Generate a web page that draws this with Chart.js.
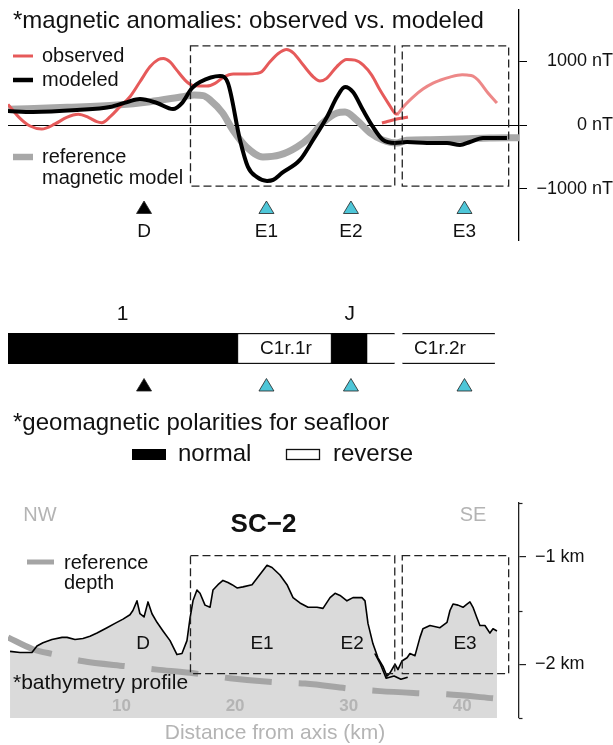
<!DOCTYPE html>
<html>
<head>
<meta charset="utf-8">
<title>SC-2 magnetic anomalies, polarities and bathymetry</title>
<script src="https://cdn.jsdelivr.net/npm/chart.js@4.4.1/dist/chart.umd.min.js"></script>
<style>
  html, body { margin: 0; padding: 0; background: #fff; }
  #wrap { position: relative; width: 613px; height: 745px; overflow: hidden; }
  canvas { position: absolute; left: 0; top: 0; }
</style>
</head>
<body>
<div id="wrap">
  <canvas id="mag" width="613" height="745"></canvas>
  <canvas id="pol" width="613" height="745"></canvas>
  <canvas id="bathy" width="613" height="745"></canvas>
</div>
<script>
// ---- distance along profile (km from axis) ----
const distanceRange = [0, 45];
const distTicks = [10, 20, 30, 40];

// ---- magnetic anomaly (nT) ----
const magTicks = [-1000, 0, 1000];
const magTickLabels = ['\u22121000 nT', '0 nT', '1000 nT'];

const observedKm = [0.0, 1.06, 1.94, 2.97, 4.14, 5.17, 6.19, 7.07, 7.81, 8.25, 9.0, 9.86, 10.74, 11.62, 12.5, 13.24, 13.68, 14.27, 14.86, 15.59, 16.18, 16.91, 17.5, 18.23, 18.96, 19.84, 21.02, 21.9, 22.34, 23.07, 23.8, 24.54, 25.12, 26.0, 26.88, 27.47, 28.06, 28.94, 29.83, 30.56, 31.29, 32.03, 32.76, 33.49, 34.08, 34.3];
const observedNT = [323, 104, -16, -63, 16, 120, 167, 120, 52, 36, 130, 286, 442, 677, 911, 1026, 1042, 989, 859, 703, 625, 609, 609, 651, 745, 797, 797, 808, 833, 989, 1120, 1183, 1130, 938, 755, 688, 729, 911, 1026, 1016, 938, 781, 547, 339, 183, 170];

const observedJoinKm = [32.93, 33.4, 33.9, 34.6, 35.22];
const observedJoinNT = [31, 55, 78, 105, 125];

const observedSEKm = [34.25, 34.96, 35.67, 36.54, 37.43, 38.04, 38.92, 40.0, 40.42, 40.95, 41.39, 42.27, 43.06];
const observedSENT = [156, 313, 438, 563, 656, 700, 750, 785, 781, 766, 703, 500, 344];

const modeledKm = [0, 2.2, 6.08, 8.98, 10.5, 11.62, 13.12, 14.53, 15.32, 16.2, 16.91, 18.67, 19.37, 20.43, 21.13, 21.9, 22.81, 23.35, 24.13, 25.71, 26.86, 28.09, 28.97, 29.68, 30.38, 31.26, 32.14, 33.02, 34.08, 35.14, 36.9, 38.66, 39.8, 40.68, 41.83, 43.94];
const modeledNT = [219, 203, 234, 281, 359, 406, 344, 250, 344, 578, 672, 766, 656, -234, -656, -813, -875, -859, -750, -547, -234, 125, 438, 594, 516, 234, -31, -234, -281, -266, -281, -281, -313, -266, -203, -203];

const refModelKm = [0, 5.2, 9.6, 12.5, 15.4, 16.4, 17.2, 17.8, 18.9, 19.8, 21.0, 22.45, 23.95, 25.45, 26.6, 27.7, 28.97, 29.68, 30.7, 31.9, 33.0, 34.25, 35.1, 37.2, 39.8, 42.4, 45];
const refModelNT = [245, 276, 313, 365, 443, 469, 460, 391, 188, -78, -344, -500, -469, -344, -188, 31, 188, 203, 78, -125, -234, -281, -240, -230, -220, -205, -200];

// study windows (km) and their vertical extent in each panel
const windowKm = [[16.07, 34.06], [34.72, 44.09]];
const windowNT = [-958, 1240];
const windowDepth = [-2.088, -0.99];

// ---- features along the profile ----
const featureNames = ['D', 'E1', 'E2', 'E3'];
const featureKm = [11.98, 22.76, 30.2, 40.2];
const profileLabelKm = [11.9, 22.37, 30.3, 40.25];

// ---- geomagnetic polarity of the seafloor (km) ----
const normalChrons = [[0, 20.17], [28.53, 31.61]];
const reverseChrons = [[20.17, 28.53], [31.61, 34.06], [34.72, 42.88]];
const reverseClosed = [true, false, false];
const chronNames = ['C1r.1r', 'C1r.2r'];
const chronNameKm = [24.48, 38.04];
const anomalyNames = ['1', 'J'];
const anomalyKm = [10.1, 30.1];

// ---- bathymetry (km) ----
const depthTicks = [-2, -1];
const depthTickLabels = ['\u22122 km', '\u22121 km'];
const depthMinorTicks = [-2.5, -1.5, -0.5];

const bathyKm = [0.18, 1.06, 2.11, 2.55, 3.08, 3.87, 4.76, 5.2, 5.9, 6.6, 7.22, 7.84, 8.72, 9.42, 10.13, 10.74, 11.0, 11.36, 11.62, 11.98, 12.33, 12.68, 13.12, 13.65, 14.27, 14.88, 15.32, 15.76, 16.03, 16.29, 16.64, 16.91, 17.35, 17.79, 18.05, 18.49, 18.93, 19.37, 19.73, 20.17, 20.69, 21.49, 21.93, 22.37, 22.81, 23.25, 23.95, 24.57, 25.1, 25.71, 26.42, 27.21, 27.74, 28.36, 28.8, 29.24, 29.85, 30.38, 31.17, 31.44, 31.7, 32.14, 32.58, 33.02, 33.37, 33.64, 34.08, 34.34, 34.69, 35.14, 35.4, 35.84, 36.28, 36.54, 37.16, 38.04, 38.66, 38.92, 39.19, 39.63, 40.07, 40.42, 40.68, 40.95, 41.3, 41.56, 42.0, 42.44, 42.71, 43.06];
const bathyDepth = [-1.88, -1.89, -1.89, -1.83, -1.80, -1.77, -1.75, -1.75, -1.77, -1.76, -1.74, -1.71, -1.66, -1.62, -1.58, -1.54, -1.50, -1.41, -1.53, -1.56, -1.42, -1.53, -1.61, -1.69, -1.78, -1.91, -1.90, -1.78, -1.57, -1.41, -1.31, -1.34, -1.45, -1.47, -1.31, -1.26, -1.22, -1.24, -1.26, -1.29, -1.28, -1.26, -1.20, -1.14, -1.08, -1.10, -1.17, -1.26, -1.38, -1.43, -1.47, -1.47, -1.48, -1.38, -1.34, -1.36, -1.41, -1.38, -1.38, -1.41, -1.62, -1.81, -1.94, -2.02, -2.11, -2.08, -2.00, -2.05, -1.97, -1.94, -1.90, -1.92, -1.75, -1.67, -1.64, -1.66, -1.61, -1.50, -1.44, -1.45, -1.47, -1.44, -1.42, -1.47, -1.57, -1.64, -1.64, -1.71, -1.67, -1.69];

const bathyJoinKm = [32.3, 32.8, 33.3, 34.0, 34.6, 35.2];
const bathyJoinDepth = [-1.90, -2.00, -2.13, -2.11, -2.14, -2.12];

const refDepthKm = [0, 2.2, 4.14, 6.52, 10.57, 13.12, 16.03, 19.55, 23.78, 26.15, 30.38, 32.76, 36.46, 38.66, 43.06];
const refDepth = [-1.75, -1.86, -1.91, -1.97, -2.02, -2.05, -2.08, -2.13, -2.17, -2.18, -2.23, -2.25, -2.27, -2.28, -2.32];

// ---- shared styling ----
const FONT = '"Liberation Sans", Arial, Helvetica, sans-serif';
const RED = '#e65a5a';
const RED_SE = 'rgba(230, 90, 90, 0.72)';
const CYAN = '#4ec6d8';
const LIGHT_GREY = '#b4b4b4';
const AXIS_W = 94;

Chart.defaults.font.family = FONT;
Chart.defaults.color = '#111';

const pts = (xs, ys) => xs.map((x, i) => ({ x, y: ys[i] }));

function text(ctx, s, x, y, size, opt = {}) {
  ctx.save();
  ctx.font = (opt.bold ? 'bold ' : '') + size + 'px ' + FONT;
  ctx.fillStyle = opt.color || '#111';
  ctx.textAlign = opt.align || 'left';
  ctx.textBaseline = 'middle';
  ctx.fillText(s, x, y);
  ctx.restore();
}

function legendLine(ctx, x1, x2, y, color, width, dash) {
  ctx.save();
  ctx.beginPath();
  ctx.moveTo(x1, y);
  ctx.lineTo(x2, y);
  ctx.strokeStyle = color;
  ctx.lineWidth = width;
  if (dash) ctx.setLineDash(dash);
  ctx.stroke();
  ctx.restore();
}

function triangle(ctx, x, top, fill) {
  const w = 15, h = 12.5;
  ctx.save();
  ctx.beginPath();
  ctx.moveTo(x, top);
  ctx.lineTo(x + w / 2, top + h);
  ctx.lineTo(x - w / 2, top + h);
  ctx.closePath();
  ctx.fillStyle = fill;
  ctx.fill();
  ctx.lineWidth = 0.8;
  ctx.strokeStyle = '#222';
  ctx.stroke();
  ctx.restore();
}

function featureTriangles(chart, top) {
  const xs = chart.scales.x;
  featureKm.forEach((km, i) => {
    triangle(chart.ctx, xs.getPixelForValue(km), top, featureNames[i] === 'D' ? '#000' : CYAN);
  });
}

function windowBoxes(chart, yRange) {
  const { ctx, scales: { x, y } } = chart;
  const yt = y.getPixelForValue(yRange[1]);
  const yb = y.getPixelForValue(yRange[0]);
  ctx.save();
  ctx.setLineDash([8, 4]);
  ctx.lineWidth = 1.3;
  ctx.strokeStyle = '#222';
  windowKm.forEach(([a, b]) => {
    const xa = x.getPixelForValue(a), xb = x.getPixelForValue(b);
    ctx.strokeRect(xa, yt, xb - xa, yb - yt);
  });
  ctx.restore();
}

const fitRightAxis = s => { s.width = AXIS_W; s.paddingTop = 0; s.paddingBottom = 0; };
const baseOptions = {
  responsive: false,
  animation: false,
  devicePixelRatio: 1,
  events: [],
};

// ---------- magnetic anomalies ----------
const magDecor = {
  id: 'magDecor',
  afterDatasetsDraw(chart) {
    const ctx = chart.ctx;
    windowBoxes(chart, windowNT);
    text(ctx, '*magnetic anomalies: observed vs. modeled', 13, 21, 24);
    legendLine(ctx, 13, 33, 56, RED, 3);
    text(ctx, 'observed', 42, 56, 20);
    legendLine(ctx, 13, 33, 80, '#000', 4.5);
    text(ctx, 'modeled', 42, 80, 20);
    legendLine(ctx, 13, 33, 157, '#a8a8a8', 6.5);
    text(ctx, 'reference', 42, 157, 20);
    text(ctx, 'magnetic model', 42, 178, 20);
    featureTriangles(chart, 201);
    const xs = chart.scales.x;
    featureKm.forEach((km, i) => text(ctx, featureNames[i], xs.getPixelForValue(km), 232, 19, { align: 'center' }));
  }
};

new Chart(document.getElementById('mag'), {
  type: 'line',
  data: {
    datasets: [
      { label: 'reference magnetic model', data: pts(refModelKm, refModelNT), borderColor: '#a8a8a8', borderWidth: 7, order: 4 },
      { label: 'observed', data: pts(observedKm, observedNT), borderColor: RED, borderWidth: 3, order: 3 },
      { label: 'observed (join)', data: pts(observedJoinKm, observedJoinNT), borderColor: RED, borderWidth: 3, order: 3 },
      { label: 'observed (SE)', data: pts(observedSEKm, observedSENT), borderColor: RED_SE, borderWidth: 3, order: 3 },
      { label: 'modeled', data: pts(modeledKm, modeledNT), borderColor: '#000', borderWidth: 4, order: 1 },
    ]
  },
  options: Object.assign({}, baseOptions, {
    layout: { padding: { left: 8, top: 10, right: 0, bottom: 505 } },
    elements: {
      point: { radius: 0 },
      line: { cubicInterpolationMode: 'monotone', borderCapStyle: 'butt', borderJoinStyle: 'round', fill: false }
    },
    plugins: { legend: { display: false }, tooltip: { enabled: false } },
    scales: {
      x: { type: 'linear', min: distanceRange[0], max: distanceRange[1], display: false },
      y: {
        type: 'linear', position: 'right', min: -1800, max: 1800,
        afterBuildTicks: s => { s.ticks = magTicks.map(v => ({ value: v })); },
        afterFit: fitRightAxis,
        grid: {
          drawOnChartArea: true,
          color: c => (c.tick && c.tick.value === 0 ? '#000' : 'rgba(0,0,0,0)'),
          tickColor: '#000', tickLength: 8, lineWidth: 1
        },
        border: { display: true, color: '#000', width: 1.3 },
        ticks: { padding: 8, crossAlign: 'far', font: { size: 18 }, color: '#111', callback: (v, i) => magTickLabels[i] }
      }
    }
  }),
  plugins: [magDecor]
});

// ---------- geomagnetic polarities ----------
const polDecor = {
  id: 'polDecor',
  afterDraw(chart) {
    const ctx = chart.ctx;
    const xs = chart.scales.x;
    const mid = (chart.chartArea.top + chart.chartArea.bottom) / 2;
    anomalyNames.forEach((s, i) => text(ctx, s, xs.getPixelForValue(anomalyKm[i]), 314, 21, { align: 'center' }));
    chronNames.forEach((s, i) => text(ctx, s, xs.getPixelForValue(chronNameKm[i]), mid, 19, { align: 'center' }));
    featureTriangles(chart, 378.5);
    text(ctx, '*geomagnetic polarities for seafloor', 13, 423, 24);
    ctx.save();
    ctx.fillStyle = '#000';
    ctx.fillRect(132, 449, 34, 11);
    ctx.fillStyle = '#fff';
    ctx.strokeStyle = '#111';
    ctx.lineWidth = 1.3;
    ctx.fillRect(286, 449, 34, 11);
    ctx.strokeRect(286.5, 449.5, 33, 10);
    ctx.restore();
    text(ctx, 'normal', 178, 454, 24);
    text(ctx, 'reverse', 333, 454, 24);
  }
};

new Chart(document.getElementById('pol'), {
  type: 'bar',
  data: {
    labels: ['polarity'],
    datasets: [
      { label: 'normal', data: normalChrons.map(r => ({ x: r, y: 'polarity' })), backgroundColor: '#000', borderWidth: 0 },
      {
        label: 'reverse', data: reverseChrons.map(r => ({ x: r, y: 'polarity' })),
        backgroundColor: '#fff', borderColor: '#111', borderSkipped: false,
        borderWidth: c => (reverseClosed[c.dataIndex] ? 1.5 : { top: 1.5, bottom: 1.5, left: 0, right: 0 })
      }
    ]
  },
  options: Object.assign({}, baseOptions, {
    indexAxis: 'y',
    datasets: { bar: { grouped: false, barPercentage: 1, categoryPercentage: 1 } },
    layout: { padding: { left: 8, right: AXIS_W, top: 333, bottom: 381 } },
    plugins: { legend: { display: false }, tooltip: { enabled: false } },
    scales: {
      x: { type: 'linear', min: distanceRange[0], max: distanceRange[1], display: false },
      y: { type: 'category', display: false }
    }
  }),
  plugins: [polDecor]
});

// ---------- bathymetry ----------
const bathyDecor = {
  id: 'bathyDecor',
  afterDatasetsDraw(chart) {
    const ctx = chart.ctx;
    const xs = chart.scales.x;
    windowBoxes(chart, windowDepth);
    text(ctx, 'NW', 40, 515, 20, { align: 'center', color: LIGHT_GREY });
    text(ctx, 'SE', 473, 515, 20, { align: 'center', color: LIGHT_GREY });
    text(ctx, 'SC\u22122', 263.5, 525, 26, { align: 'center', bold: true });
    legendLine(ctx, 27, 54, 562, '#a5a5a5', 5);
    text(ctx, 'reference', 64, 563, 20);
    text(ctx, 'depth', 64, 583, 20);
    text(ctx, '*bathymetry profile', 13, 683, 21);
    featureNames.forEach((s, i) => text(ctx, s, xs.getPixelForValue(profileLabelKm[i]), 644, 19, { align: 'center' }));
  },
  afterDraw(chart) {
    const ctx = chart.ctx;
    const ys = chart.scales.y;
    ctx.save();
    ctx.strokeStyle = '#222';
    ctx.lineWidth = 1.2;
    depthMinorTicks.forEach(v => {
      const y = Math.round(ys.getPixelForValue(v)) + 0.5;
      ctx.beginPath();
      ctx.moveTo(ys.left, y);
      ctx.lineTo(ys.left + 3.5, y);
      ctx.stroke();
    });
    ctx.restore();
    text(ctx, 'Distance from axis (km)', 275, 733, 21, { align: 'center', color: LIGHT_GREY });
  }
};

new Chart(document.getElementById('bathy'), {
  type: 'line',
  data: {
    datasets: [
      { label: 'bathymetry', data: pts(bathyKm, bathyDepth), borderColor: '#000', borderWidth: 1.6, fill: 'start', backgroundColor: '#dadada', order: 1 },
      { label: 'bathymetry (join)', data: pts(bathyJoinKm, bathyJoinDepth), borderColor: '#000', borderWidth: 1.6, fill: false, order: 1 },
      { label: 'reference depth', data: pts(refDepthKm, refDepth), borderColor: '#a5a5a5', borderWidth: 6, borderDash: [47, 27], fill: false, cubicInterpolationMode: 'monotone', order: 2 }
    ]
  },
  options: Object.assign({}, baseOptions, {
    layout: { padding: { left: 8, top: 503, right: 0, bottom: 0 } },
    elements: { point: { radius: 0 }, line: { tension: 0, borderJoinStyle: 'round' } },
    plugins: { legend: { display: false }, tooltip: { enabled: false }, filler: { drawTime: 'beforeDatasetsDraw' } },
    scales: {
      x: {
        type: 'linear', position: 'bottom', min: distanceRange[0], max: distanceRange[1],
        afterBuildTicks: s => { s.ticks = distTicks.map(v => ({ value: v })); },
        afterFit: s => { s.height = 27; s.paddingLeft = 0; s.paddingRight = 0; },
        grid: { display: false, drawTicks: false },
        border: { display: false },
        // labels sit just inside the plot, on top of the filled profile
        ticks: { mirror: true, padding: 1, z: 1, maxRotation: 0, autoSkip: false, font: { size: 17, weight: 'bold' }, color: LIGHT_GREY }
      },
      y: {
        type: 'linear', position: 'right', min: -2.5, max: -0.5,
        afterBuildTicks: s => { s.ticks = depthTicks.map(v => ({ value: v })); },
        afterFit: fitRightAxis,
        grid: { drawOnChartArea: false, tickLength: 7, tickColor: '#222', lineWidth: 1.2 },
        border: { display: true, color: '#222', width: 1.3 },
        ticks: { padding: 9, crossAlign: 'near', font: { size: 18 }, color: '#111', callback: (v, i) => depthTickLabels[i] }
      }
    }
  }),
  plugins: [bathyDecor]
});
</script>
</body>
</html>
